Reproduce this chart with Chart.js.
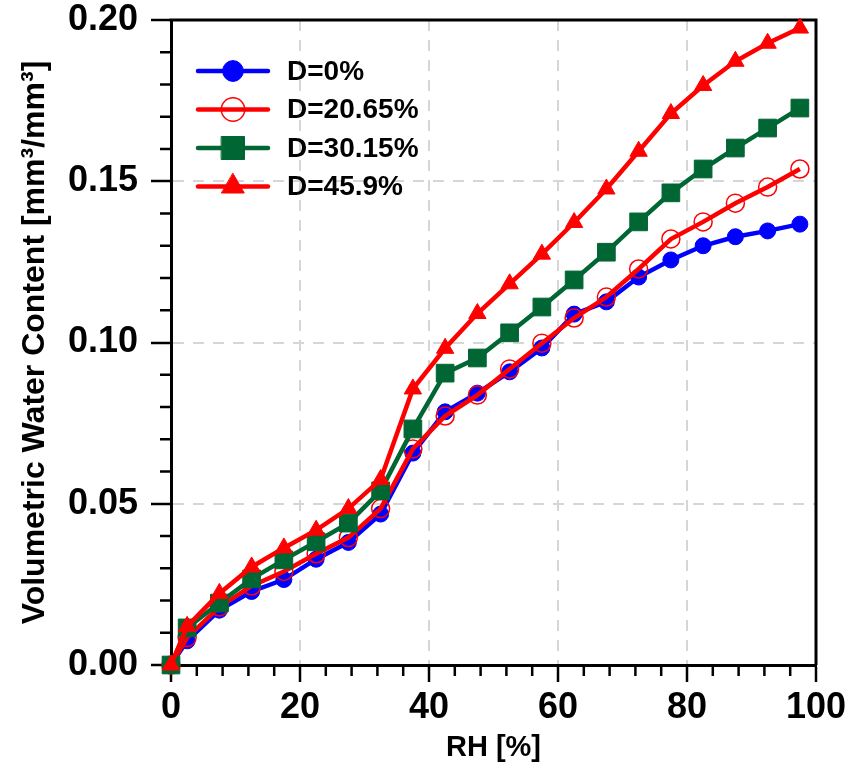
<!DOCTYPE html>
<html>
<head>
<meta charset="utf-8">
<title>Volumetric water content vs RH</title>
<script src="https://cdn.jsdelivr.net/npm/chart.js"></script>
<style>
  html, body { margin: 0; padding: 0; background: #fff; }
  #wrap { width: 851px; height: 769px; }
</style>
</head>
<body>
<div id="wrap"><canvas id="sorption" width="851" height="769"></canvas></div>
<script>
// relative humidity steps [%]
const rh = [0, 2.5, 7.5, 12.5, 17.5, 22.5, 27.5, 32.5, 37.5, 42.5, 47.5,
            52.5, 57.5, 62.5, 67.5, 72.5, 77.5, 82.5, 87.5, 92.5, 97.5];

// volumetric water content [mm3/mm3] for each damage level
const wcD0 = [0, 0.0075, 0.0170, 0.0228, 0.0265, 0.0328, 0.0380, 0.0468, 0.0657, 0.0785, 0.0843,
              0.0909, 0.0983, 0.1088, 0.1126, 0.1203, 0.1256, 0.1300, 0.1328, 0.1346, 0.1367];
const wcD20 = [0, 0.0085, 0.0180, 0.0245, 0.0290, 0.0345, 0.0395, 0.0485, 0.0670, 0.0772, 0.0837,
               0.0918, 0.0998, 0.1076, 0.1141, 0.1228, 0.1321, 0.1374, 0.1432, 0.1482, 0.1538];
const wcD30 = [0, 0.0115, 0.0192, 0.0267, 0.0326, 0.0382, 0.0440, 0.0540, 0.0732, 0.0905, 0.0952,
               0.1030, 0.1110, 0.1194, 0.1280, 0.1374, 0.1464, 0.1538, 0.1603, 0.1665, 0.1727];
const wcD45 = [0, 0.0120, 0.0222, 0.0304, 0.0363, 0.0418, 0.0485, 0.0575, 0.0856, 0.0982, 0.1090,
               0.1182, 0.1274, 0.1372, 0.1476, 0.1593, 0.1710, 0.1797, 0.1872, 0.1928, 0.1975];

const seriesLabels = ['D=0%', 'D=20.65%', 'D=30.15%', 'D=45.9%'];
const xTicks = [0, 20, 40, 60, 80, 100];
const yTicks = [0, 0.05, 0.10, 0.15, 0.20];

const FONT = "'Liberation Sans', Arial, Helvetica, sans-serif";
const GREEN = '#006633';

const toPoints = vals => vals.map((v, i) => ({ x: rh[i], y: v }));

function series(label, vals, color, style) {
    return Object.assign({
        label,
        data: toPoints(vals),
        borderColor: color,
        pointBorderColor: color,
        pointBackgroundColor: color,
        borderWidth: 4.5,
        tension: 0,
        clip: false
    }, style);
}

// outer box (top/right edges) and the small ticks between labelled ones
const framePlugin = {
    id: 'frame',
    beforeDatasetsDraw(chart) {
        const { ctx, chartArea: a, scales: { x, y } } = chart;
        ctx.save();
        ctx.strokeStyle = '#000';
        ctx.lineWidth = 3;
        ctx.beginPath();
        ctx.moveTo(a.left - 1.5, a.top);
        ctx.lineTo(a.right, a.top);
        ctx.lineTo(a.right, a.bottom);
        ctx.stroke();

        ctx.lineWidth = 2.5;
        ctx.beginPath();
        for (let v = 4; v < 100; v += 4) {
            if (v % 20 === 0) continue;
            const px = x.getPixelForValue(v);
            ctx.moveTo(px, a.bottom);
            ctx.lineTo(px, a.bottom + 11);
        }
        for (let i = 1; i < 20; i++) {
            if (i % 5 === 0) continue;
            const py = y.getPixelForValue(i / 100);
            ctx.moveTo(a.left, py);
            ctx.lineTo(a.left - 11, py);
        }
        ctx.stroke();
        ctx.restore();
    }
};

// legend inside the plot: short line with the marker on it, then the label
const insideLegend = {
    id: 'insideLegend',
    afterDatasetsDraw(chart) {
        const { ctx, chartArea: a } = chart;
        const x0 = a.left + 27, x1 = a.left + 97, tx = a.left + 116;
        ctx.save();
        chart.data.datasets.forEach((ds, i) => {
            const yy = a.top + 51 + i * 38.5;
            ctx.strokeStyle = ds.borderColor;
            ctx.lineWidth = 4.5;
            ctx.lineCap = 'round';
            ctx.beginPath();
            ctx.moveTo(x0, yy);
            ctx.lineTo(x1, yy);
            ctx.stroke();

            ctx.fillStyle = ds.pointBackgroundColor;
            ctx.strokeStyle = ds.pointBorderColor;
            ctx.lineWidth = ds.pointBorderWidth || 1;
            Chart.helpers.drawPoint(ctx, {
                pointStyle: ds.pointStyle,
                radius: ds.pointRadius * 1.3,
                rotation: 0,
                borderWidth: ds.pointBorderWidth || 1
            }, (x0 + x1) / 2, yy);

            ctx.fillStyle = '#000';
            ctx.font = 'bold 28px ' + FONT;
            ctx.textAlign = 'left';
            ctx.textBaseline = 'middle';
            ctx.fillText(ds.label, tx, yy + 1);
        });
        ctx.restore();
    }
};

const ctx = document.getElementById('sorption').getContext('2d');

new Chart(ctx, {
    type: 'line',
    data: {
        datasets: [
            series(seriesLabels[0], wcD0, '#0000ff', {
                pointStyle: 'circle', pointRadius: 8, pointBorderWidth: 1, order: 4
            }),
            series(seriesLabels[1], wcD20, '#ff0000', {
                pointStyle: 'circle', pointRadius: 9, pointBorderWidth: 1.5,
                pointBackgroundColor: 'rgba(0,0,0,0)', order: 3
            }),
            series(seriesLabels[2], wcD30, GREEN, {
                pointStyle: 'rect', pointRadius: 12.5, pointBorderWidth: 1, order: 2
            }),
            series(seriesLabels[3], wcD45, '#ff0000', {
                pointStyle: 'triangle', pointRadius: 10, pointBorderWidth: 1, order: 1
            })
        ]
    },
    options: {
        responsive: false,
        animation: false,
        devicePixelRatio: 1,
        layout: { padding: { top: 20, right: 35, left: 0, bottom: 0 } },
        plugins: {
            legend: { display: false },
            tooltip: { enabled: false }
        },
        scales: {
            x: {
                type: 'linear',
                min: 0,
                max: 100,
                afterBuildTicks: s => { s.ticks = xTicks.map(v => ({ value: v })); },
                afterFit: s => { s.height = 104; },
                ticks: {
                    color: '#000',
                    padding: 4,
                    maxRotation: 0,
                    autoSkip: false,
                    font: { family: FONT, size: 36, weight: 'bold' }
                },
                grid: {
                    color: c => (c.tick && (c.tick.value === 0 || c.tick.value === 100)) ? 'rgba(0,0,0,0)' : '#d6d6d6',
                    lineWidth: 2,
                    tickColor: '#000',
                    tickWidth: 2.5,
                    tickLength: 17
                },
                border: { display: true, color: '#000', width: 3, dash: [11, 9] },
                title: {
                    display: true,
                    text: 'RH [%]',
                    color: '#000',
                    padding: { top: 4, bottom: 4 },
                    font: { family: FONT, size: 29, weight: 'bold' }
                }
            },
            y: {
                type: 'linear',
                min: 0,
                max: 0.2,
                afterBuildTicks: s => { s.ticks = yTicks.map(v => ({ value: v })); },
                afterFit: s => {
                    s.width = 171;
                    // labels may overhang the plot top; keep the plot where the padding puts it
                    s.paddingTop = 0;
                    s.paddingBottom = 0;
                },
                ticks: {
                    color: '#000',
                    padding: 13,
                    callback: v => v.toFixed(2),
                    font: { family: FONT, size: 36, weight: 'bold', lineHeight: 1 }
                },
                grid: {
                    color: c => (c.tick && (c.tick.value < 1e-9 || c.tick.value > 0.2 - 1e-9)) ? 'rgba(0,0,0,0)' : '#d6d6d6',
                    lineWidth: 2,
                    tickColor: '#000',
                    tickWidth: 2.5,
                    tickLength: 20
                },
                border: { display: true, color: '#000', width: 3, dash: [11, 9] },
                title: {
                    display: true,
                    text: 'Volumetric Water Content [mm³/mm³]',
                    color: '#000',
                    padding: { top: 16, bottom: 0 },
                    font: { family: FONT, size: 32, weight: 'bold' }
                }
            }
        }
    },
    plugins: [framePlugin, insideLegend]
});
</script>
</body>
</html>
